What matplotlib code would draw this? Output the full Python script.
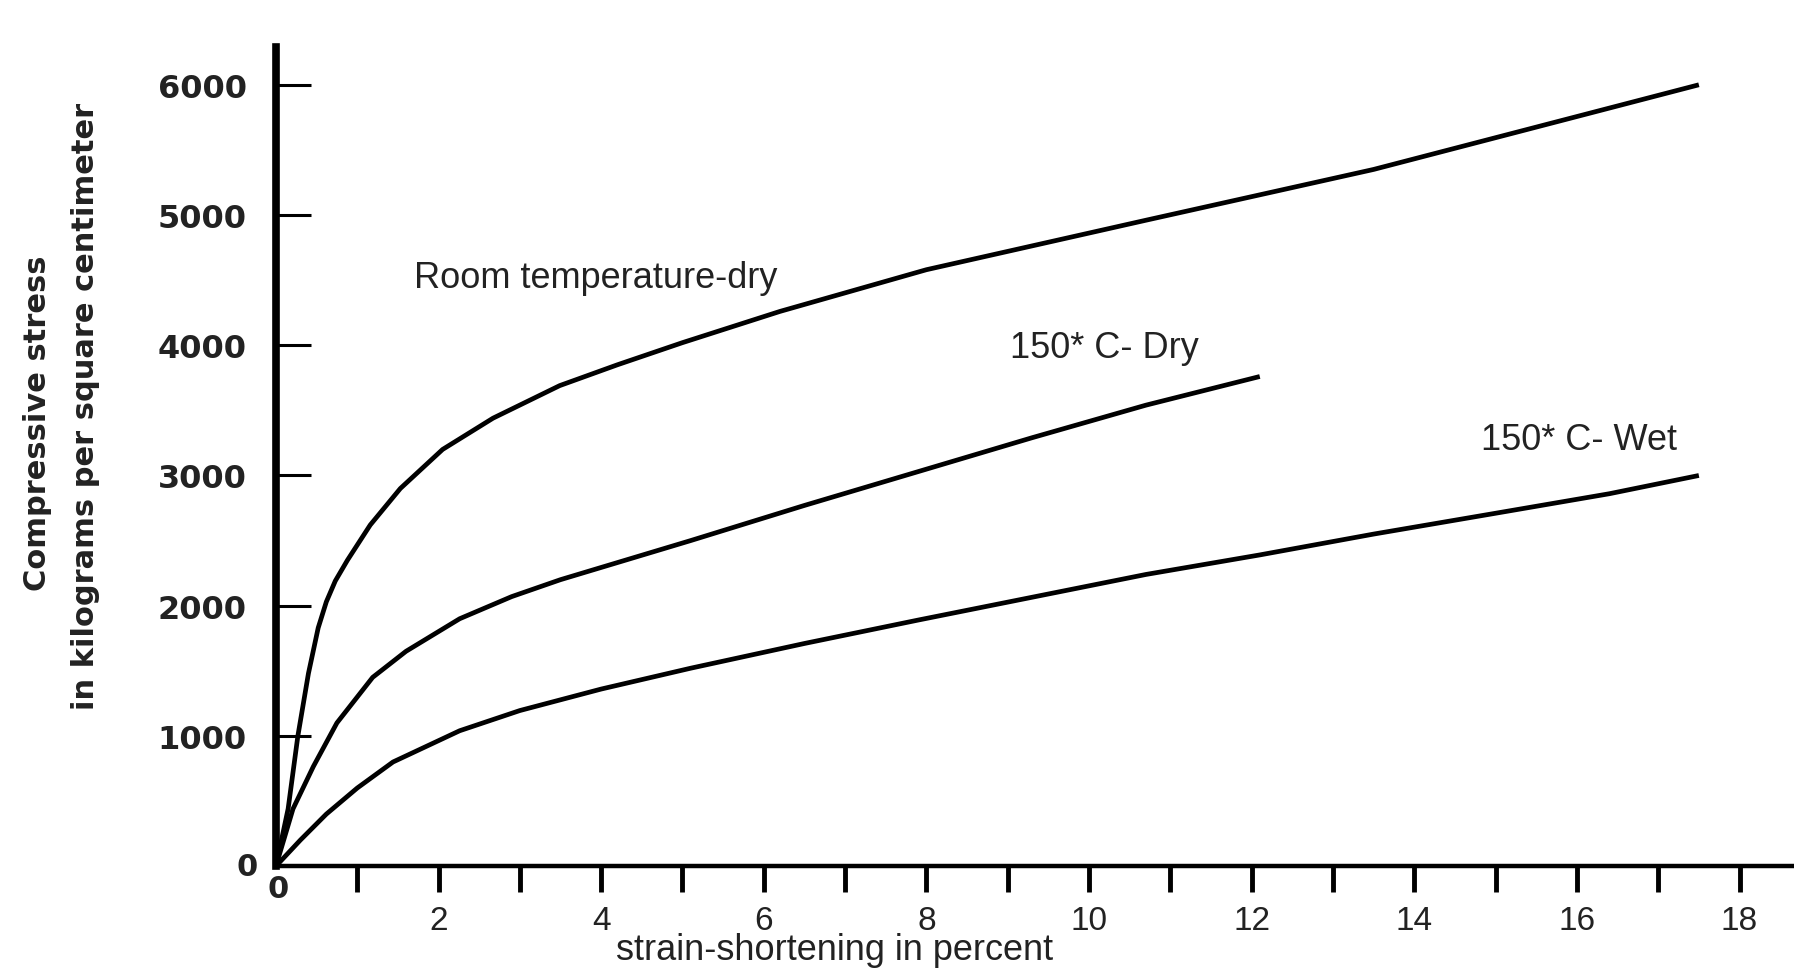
import matplotlib
matplotlib.use("Agg")
from matplotlib import pyplot as plt

# strain (percent) and compressive stress (kg/cm2)
room_x = [0, 0.15, 0.27, 0.40, 0.52, 0.62, 0.73, 0.88, 1.16, 1.53, 2.05,
          2.67, 3.49, 4.2, 5.0, 6.2, 8.0, 10.7, 13.5, 17.5]
room_y = [0, 440, 1000, 1480, 1830, 2030, 2190, 2350, 2620, 2900, 3200,
          3440, 3690, 3850, 4020, 4260, 4580, 4960, 5350, 6000]

dry_x = [0, 0.21, 0.46, 0.75, 1.19, 1.6, 2.26, 2.9, 3.5, 4.3, 5.1, 6.5, 7.9,
         9.3, 10.7, 12.1]
dry_y = [0, 440, 765, 1100, 1450, 1650, 1900, 2070, 2200, 2350, 2500, 2770,
         3030, 3290, 3540, 3760]

wet_x = [0, 0.3, 0.62, 1.0, 1.44, 2.26, 3.0, 4.0, 5.1, 6.5, 7.9, 9.3, 10.7,
         12.1, 13.5, 15.0, 16.4, 17.5]
wet_y = [0, 200, 400, 600, 800, 1040, 1195, 1360, 1520, 1710, 1890, 2065,
         2240, 2390, 2550, 2710, 2860, 3000]

y_ticks = [1000, 2000, 3000, 4000, 5000, 6000]
x_ticks = list(range(1, 19))
x_labels = ["" if t % 2 else str(t) for t in x_ticks]

curve_labels = ["Room temperature-dry", "150* C- Dry", "150* C- Wet"]
label_pos = [(1.70, 4524), (9.03, 3979), (14.82, 3280)]

fig = plt.figure(figsize=(17.94, 9.70), dpi=100)
ax = fig.add_axes([0.1538, 0.106, 0.8462, 0.8445])

for xs, ys in [(room_x, room_y), (dry_x, dry_y), (wet_x, wet_y)]:
    ax.plot(xs, ys, color="black", lw=3.4, solid_capstyle="butt",
            solid_joinstyle="round")

ax.set_xlim(0, 18.67)
ax.set_ylim(0, 6290)

ax.spines["top"].set_visible(False)
ax.spines["right"].set_visible(False)
ax.spines["left"].set_linewidth(5.5)
ax.spines["bottom"].set_linewidth(3.2)

ax.set_yticks(y_ticks)
ax.set_yticklabels([str(t) for t in y_ticks], fontsize=23, fontweight="bold",
                   family="DejaVu Sans", color="#222222")
ax.tick_params(axis="y", direction="in", length=25, width=2.2, pad=21)

ax.set_xticks(x_ticks)
ax.set_xticklabels(x_labels, fontsize=24, family="Liberation Sans",
                   color="#222222")
ax.tick_params(axis="x", direction="out", length=19, width=3.5, pad=9)

# zero labels of the original axes
ax.text(-0.22, 0, "0", fontsize=22, fontweight="bold", family="DejaVu Sans",
        ha="right", va="center", color="#222222")
ax.text(0.03, -170, "0", fontsize=22, fontweight="bold", family="DejaVu Sans",
        ha="center", va="center", color="#222222")

for txt, (tx, ty) in zip(curve_labels, label_pos):
    ax.text(tx, ty, txt, fontsize=26, family="Liberation Sans",
            ha="left", va="center", color="#222222")

# axis title sits low, touching the tick labels as in the scan
fig.text(0.4654, 0.020, "strain-shortening in percent", fontsize=26,
         family="Liberation Sans", ha="center", va="center", color="#222222")
fig.text(0.021, 0.564, "Compressive stress", fontsize=22, fontweight="bold",
         family="DejaVu Sans", rotation=90, ha="center", va="center",
         color="#222222")
fig.text(0.0475, 0.581, "in kilograms per square centimeter", fontsize=22,
         fontweight="bold", family="DejaVu Sans", rotation=90, ha="center",
         va="center", color="#222222")

fig.savefig("out.png", dpi=100)
